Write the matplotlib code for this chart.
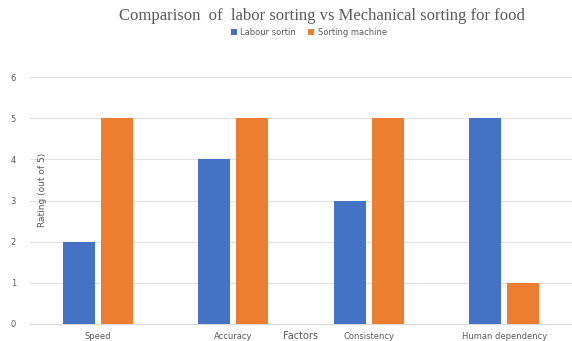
import numpy as np
import matplotlib
matplotlib.use('Agg')
import matplotlib.pyplot as plt

factors = ['Speed', 'Accuracy', 'Consistency', 'Human dependency']
labour = [2, 4, 3, 5]
machine = [5, 5, 5, 1]

blue = '#4472C4'
orange = '#ED7D31'
grey = '#595959'

fig = plt.figure(figsize=(5.72, 3.41), dpi=100)
ax = fig.add_axes([0.052, 0.050, 0.948, 0.724])

x = np.arange(len(factors))
w = 0.236
ax.bar(x - 0.14, labour, w, color=blue, label='Labour sortin', zorder=3)
ax.bar(x + 0.14, machine, w, color=orange, label='Sorting machine', zorder=3)

ax.set_xlim(-0.5, 3.5)
ax.set_ylim(0, 6)
ax.set_yticks(range(7))
ax.grid(axis='y', color='#E0E0E0', linewidth=0.8, zorder=0)
for s in ['top', 'right', 'left']:
    ax.spines[s].set_visible(False)
ax.spines['bottom'].set_color('#D9D9D9')
ax.set_xticks(x)
ax.set_xticklabels(factors)
ax.tick_params(axis='both', length=0, labelsize=6, colors=grey, pad=6)
ax.tick_params(axis='y', pad=10)

fig.text(0.075, 0.443, 'Rating (out of 5)', rotation=90, fontsize=6.5, color=grey,
         ha='center', va='center')
fig.text(0.525, 0.015, 'Factors', fontsize=7, color=grey, ha='center', va='center')

fig.text(0.563, 0.953, 'Comparison  of  labor sorting vs Mechanical sorting for food',
         family='Liberation Serif', fontsize=12, color=grey, ha='center', va='center')
fig.legend(loc='center', bbox_to_anchor=(0.54, 0.905), ncol=2, frameon=False,
           fontsize=6, labelcolor=grey, handlelength=0.7, handleheight=0.7,
           columnspacing=1.5, handletextpad=0.4)

fig.savefig('out.png', dpi=100)
